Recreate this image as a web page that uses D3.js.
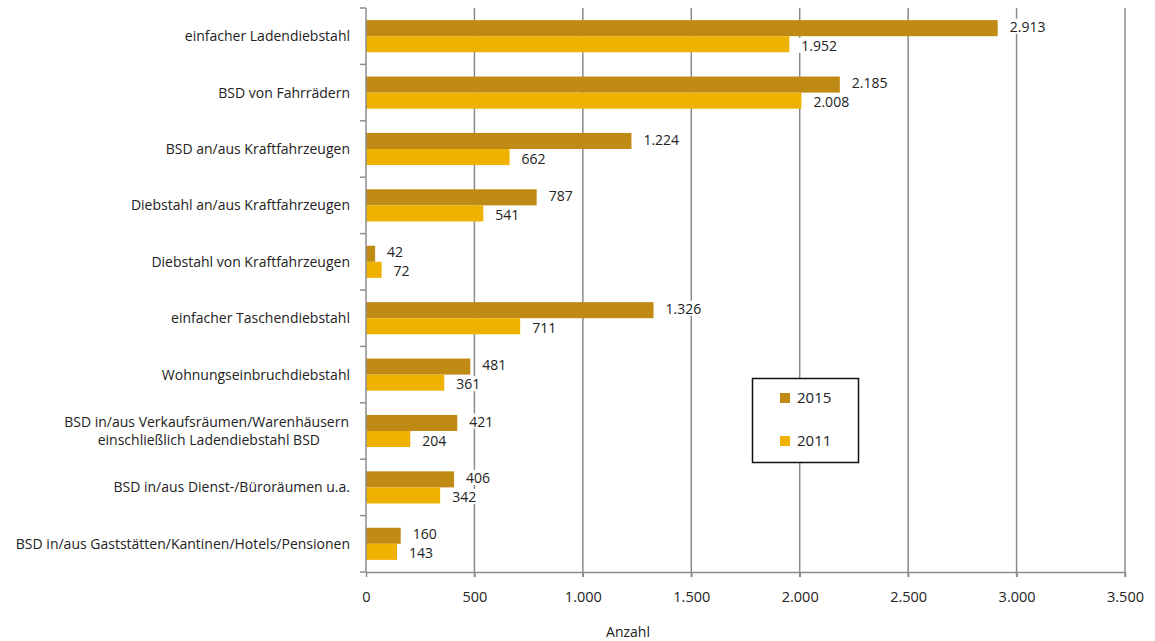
<!DOCTYPE html>
<html>
<head>
<meta charset="utf-8">
<script src="https://cdn.jsdelivr.net/npm/d3@7"></script>
<style>
  body { margin: 0; background: #fff; }
  svg text { font-family: "Open Sans", "Noto Sans", sans-serif; fill: #222; }
</style>
</head>
<body>
<script>
// data
const categories = [
  "einfacher Ladendiebstahl",
  "BSD von Fahrrädern",
  "BSD an/aus Kraftfahrzeugen",
  "Diebstahl an/aus Kraftfahrzeugen",
  "Diebstahl von Kraftfahrzeugen",
  "einfacher Taschendiebstahl",
  "Wohnungseinbruchdiebstahl",
  "BSD in/aus Verkaufsräumen/Warenhäusern\neinschließlich Ladendiebstahl BSD",
  "BSD in/aus Dienst-/Büroräumen u.a.",
  "BSD in/aus Gaststätten/Kantinen/Hotels/Pensionen"
];
const values2015 = [2913, 2185, 1224, 787, 42, 1326, 481, 421, 406, 160];
const values2011 = [1952, 2008, 662, 541, 72, 711, 361, 204, 342, 143];
const seriesNames = ["2015", "2011"];
const xTicks = [0, 500, 1000, 1500, 2000, 2500, 3000, 3500];
const axisTitle = "Anzahl";

const colors = { "2015": "#C08B14", "2011": "#EFB200" };

const W = 1155, H = 641;
const mLeft = 366, mRight = 1125, mTop = 8, mBottom = 572;

const svg = d3.select("body").append("svg")
    .attr("width", W)
    .attr("height", H);

const x = d3.scaleLinear().domain([0, 3500]).range([mLeft, mRight]);
const y = d3.scaleBand().domain(categories).range([mTop, mBottom]).paddingInner(0.43).paddingOuter(0.215);
const inner = d3.scaleBand().domain(seriesNames).range([0, y.bandwidth()]);

const fmt = d3.formatLocale({ decimal: ",", thousands: ".", grouping: [3], currency: ["", "€"] }).format(",d");

// gridlines
svg.append("g").selectAll("line")
    .data(xTicks.slice(1))
    .join("line")
    .attr("x1", d => x(d)).attr("x2", d => x(d))
    .attr("y1", mTop).attr("y2", mBottom + 5)
    .attr("stroke", "#8c8c8c")
    .attr("stroke-width", 1.5);

const rows = categories.map((c, i) => ({ cat: c, v: { "2015": values2015[i], "2011": values2011[i] } }));
const labelBg = svg.append("g");
const g = svg.append("g");
const labels = svg.append("g").style("font-size", "14px");

// bars
seriesNames.forEach(s => {
    g.selectAll("rect.s" + s)
        .data(rows)
        .join("rect")
        .attr("class", "s" + s)
        .attr("x", x(0))
        .attr("y", d => y(d.cat) + inner(s))
        .attr("width", d => x(d.v[s]) - x(0))
        .attr("height", inner.bandwidth())
        .attr("fill", colors[s]);
});

// value labels, white box behind them hides the gridlines
seriesNames.forEach((s, si) => {
    rows.forEach(d => {
        const t = labels.append("text")
            .attr("x", x(d.v[s]) + 12)
            .attr("y", y(d.cat) + inner(s) + inner.bandwidth() / 2 + (si == 0 ? -1.5 : 1.5))
            .attr("dy", "0.36em")
            .text(fmt(d.v[s]));
        const b = t.node().getBBox();
        labelBg.append("rect")
            .attr("x", b.x - 3).attr("y", b.y + 2)
            .attr("width", b.width + 6).attr("height", b.height - 4)
            .attr("fill", "#fff");
    });
});

// left axis
svg.append("line")
    .attr("x1", mLeft).attr("x2", mLeft)
    .attr("y1", mTop).attr("y2", mBottom)
    .attr("stroke", "#8c8c8c").attr("stroke-width", 1.5);
const step = (mBottom - mTop) / categories.length;
svg.append("g").selectAll("line")
    .data(d3.range(categories.length + 1))
    .join("line")
    .attr("x1", mLeft - 6).attr("x2", mLeft)
    .attr("y1", i => mTop + i * step).attr("y2", i => mTop + i * step)
    .attr("stroke", "#8c8c8c").attr("stroke-width", 1.5);

// category labels
svg.append("g").style("font-size", "14px")
    .selectAll("text")
    .data(categories)
    .join("text")
    .attr("text-anchor", "end")
    .attr("y", d => y(d) + y.bandwidth() / 2)
    .each(function (d) {
        const lines = d.split("\n");
        const el = d3.select(this);
        lines.forEach((ln, k) => {
            el.append("tspan")
                .attr("x", lines.length > 1 ? (k == 0 ? 349 : 320) : 350)
                .attr("dy", k == 0 ? (lines.length > 1 ? "-0.3em" : "0.36em") : "1.3em")
                .text(ln);
        });
    });

// bottom axis
const xAxis = svg.append("g")
    .attr("transform", `translate(0,${mBottom})`)
    .call(d3.axisBottom(x).tickValues(xTicks).tickFormat(fmt).tickSize(5).tickSizeOuter(0));
xAxis.select(".domain").attr("stroke", "#8c8c8c").attr("stroke-width", 1.5);
xAxis.selectAll(".tick line").attr("stroke", "#8c8c8c").attr("stroke-width", 1.5);
xAxis.selectAll(".tick text")
    .attr("y", 20)
    .style("font-size", "14.5px")
    .style("font-family", '"Open Sans", "Noto Sans", sans-serif')
    .attr("fill", "#222");

svg.append("text")
    .attr("x", 628).attr("y", 637)
    .attr("text-anchor", "middle")
    .style("font-size", "14px")
    .text(axisTitle);

// legend
const leg = svg.append("g");
leg.append("rect")
    .attr("x", 752.5).attr("y", 378.5)
    .attr("width", 106).attr("height", 84)
    .attr("fill", "#fff").attr("stroke", "#111").attr("stroke-width", 1.5);
seriesNames.forEach((s, i) => {
    const yy = 398 + i * 43;
    leg.append("rect")
        .attr("x", 780).attr("y", yy - 5)
        .attr("width", 10).attr("height", 10)
        .attr("fill", colors[s]);
    leg.append("text")
        .attr("x", 797).attr("y", yy)
        .attr("dy", "0.36em")
        .style("font-size", "15px")
        .text(s);
});
</script>
</body>
</html>
